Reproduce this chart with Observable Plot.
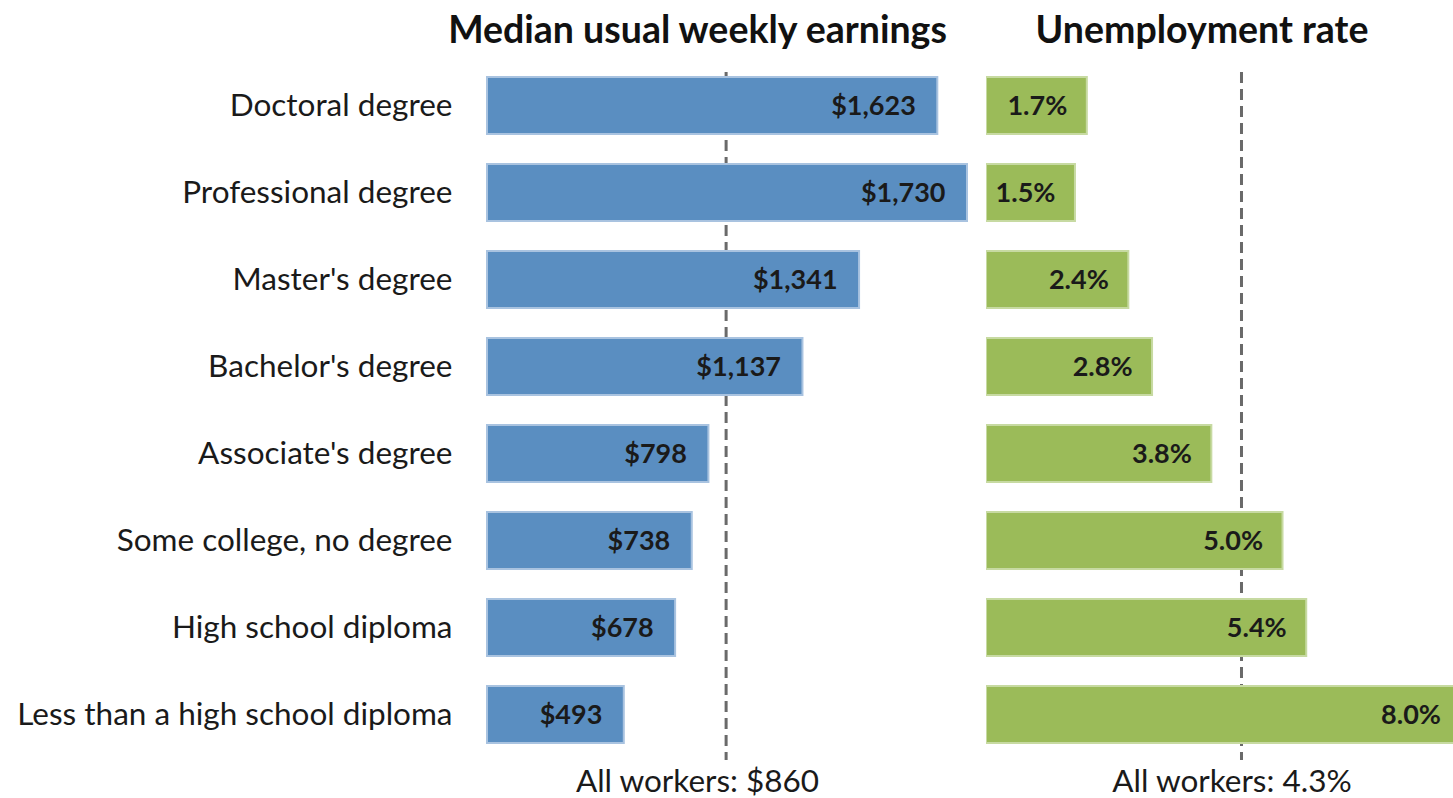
<!DOCTYPE html>
<html>
<head>
<meta charset="utf-8">
<script src="https://cdn.jsdelivr.net/npm/d3@7"></script>
<script src="https://cdn.jsdelivr.net/npm/@observablehq/plot@0.6"></script>
<style>
  html, body { margin: 0; padding: 0; background: #fff; overflow: hidden; }
  #wrap { position: relative; width: 1453px; height: 798px; }
  #left, #right { position: absolute; top: 0; }
  #left { left: 0; }
  #right { left: 978px; }
</style>
</head>
<body>
<div id="wrap"><div id="left"></div><div id="right"></div></div>
<script>
const categories = [
  "Doctoral degree",
  "Professional degree",
  "Master's degree",
  "Bachelor's degree",
  "Associate's degree",
  "Some college, no degree",
  "High school diploma",
  "Less than a high school diploma"
];
const earnings = [1623, 1730, 1341, 1137, 798, 738, 678, 493];
const unemployment = [1.7, 1.5, 2.4, 2.8, 3.8, 5.0, 5.4, 8.0];
const allWorkersEarnings = 860;
const allWorkersUnemployment = 4.3;
const titles = ["Median usual weekly earnings", "Unemployment rate"];
const footLabels = ["All workers: $860", "All workers: 4.3%"];

const earnData = categories.map((c, i) => ({category: c, value: earnings[i]}));
const unempData = categories.map((c, i) => ({category: c, value: unemployment[i]}));

const fmtDollar = d3.format("$,");
const fmtPct = v => v.toFixed(1) + "%";

const font = "Lato, 'Open Sans', sans-serif";
const H = 798, MT = 75, MB = 52;
const yOpts = {domain: categories, paddingInner: 0.34, paddingOuter: 0};

const left = Plot.plot({
  width: 975, height: H,
  marginLeft: 487, marginRight: 8, marginTop: MT, marginBottom: MB,
  style: {fontFamily: font, fontSize: "31.5px", color: "#1a1a1a", background: "white"},
  x: {domain: [0, 1730], axis: null},
  y: {...yOpts, label: null, tickSize: 0, tickPadding: 35},
  marks: [
    Plot.ruleX([allWorkersEarnings], {stroke: "#6a6a6a", strokeWidth: 3, strokeDasharray: "11,6", insetTop: -3, insetBottom: -14}),
    Plot.barX(earnData, {x: "value", y: "category", fill: "#5a8ec1", stroke: "#a9c3e0", strokeWidth: 2}),
    Plot.text(earnData, {x: "value", y: "category", text: d => fmtDollar(d.value), textAnchor: "end", dx: -22,
      fill: "#1a1a1a", fontWeight: "bold", fontSize: 27}),
    Plot.text([titles[0]], {frameAnchor: "top", dy: -45, dx: -30, fontWeight: "bold", fontSize: 37.5, fill: "#111", lineAnchor: "middle"}),
    Plot.text([footLabels[0]], {frameAnchor: "bottom", dy: 35, dx: -30, fontSize: 31.5, fill: "#1a1a1a", lineAnchor: "middle"})
  ]
});
document.getElementById("left").appendChild(left);

const right = Plot.plot({
  width: 475, height: H,
  marginLeft: 8, marginRight: 0, marginTop: MT, marginBottom: MB,
  style: {fontFamily: font, fontSize: "31.5px", color: "#1a1a1a", background: "white"},
  x: {domain: [0, 7.875], axis: null},
  y: {...yOpts, axis: null},
  marks: [
    Plot.ruleX([allWorkersUnemployment], {stroke: "#6a6a6a", strokeWidth: 3, strokeDasharray: "11,6", insetTop: -3, insetBottom: -14}),
    Plot.barX(unempData, {x: "value", y: "category", fill: "#9bbb59", stroke: "#c7daa2", strokeWidth: 2, clip: true}),
    Plot.text(unempData, {x: "value", y: "category", text: d => fmtPct(d.value), textAnchor: "end", dx: -20,
      fill: "#1a1a1a", fontWeight: "bold", fontSize: 27}),
    Plot.text([titles[1]], {frameAnchor: "top", dy: -45, dx: -18, fontWeight: "bold", fontSize: 37.5, fill: "#111", lineAnchor: "middle"}),
    Plot.text([footLabels[1]], {frameAnchor: "bottom", dy: 35, dx: 12, fontSize: 31.5, fill: "#1a1a1a", lineAnchor: "middle"})
  ]
});
document.getElementById("right").appendChild(right);
</script>
</body>
</html>
